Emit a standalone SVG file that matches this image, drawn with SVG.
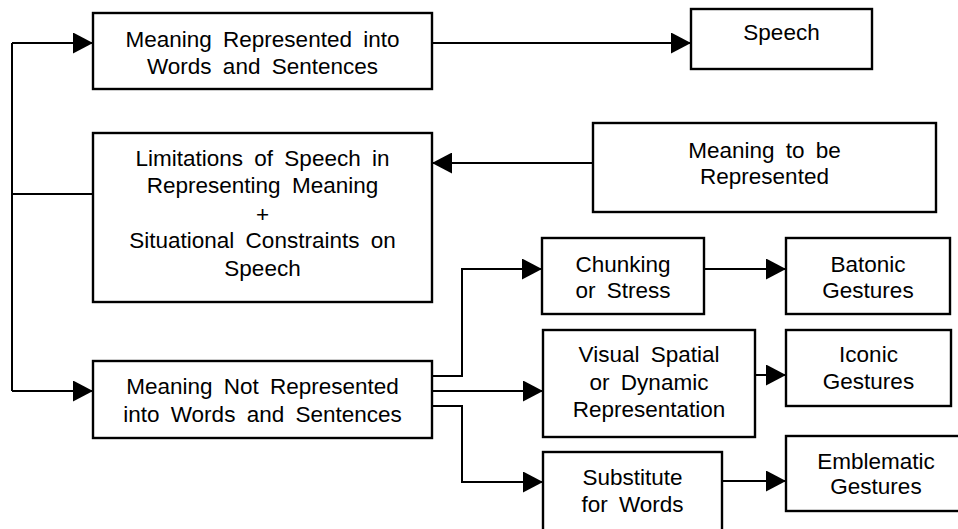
<svg xmlns="http://www.w3.org/2000/svg" width="958" height="529" viewBox="0 0 958 529">
  <style>
    .box { fill: #ffffff; stroke: #000000; stroke-width: 2.4; }
    .wire { fill: none; stroke: #000000; stroke-width: 2; }
    text { font-family: "Liberation Sans", Arial, Helvetica, sans-serif; font-size: 22.5px; fill: #000000; text-anchor: middle; word-spacing: 5px; }
  </style>
  <defs>
    <marker id="head" markerUnits="userSpaceOnUse" markerWidth="20" markerHeight="21" refX="20" refY="10.5" orient="auto">
      <path d="M0,0 L20,10.5 L0,21 Z" fill="#000000"/>
    </marker>
  </defs>
  <rect width="958" height="529" fill="#ffffff"/>

  <!-- connectors -->
  <g id="connectors">
    <path class="wire" d="M12,43 L12,391"/>
    <path class="wire" d="M12,43 L93,43" marker-end="url(#head)"/>
    <path class="wire" d="M12,194 L93,194"/>
    <path class="wire" d="M12,391 L93,391" marker-end="url(#head)"/>
    <path class="wire" d="M432,43 L691,43" marker-end="url(#head)"/>
    <path class="wire" d="M593,163 L432,163" marker-end="url(#head)"/>
    <path class="wire" d="M432,376 L462,376 L462,269 L542,269" marker-end="url(#head)"/>
    <path class="wire" d="M432,391 L543,391" marker-end="url(#head)"/>
    <path class="wire" d="M432,406 L462,406 L462,482 L543,482" marker-end="url(#head)"/>
    <path class="wire" d="M704,269 L786,269" marker-end="url(#head)"/>
    <path class="wire" d="M755,375 L786,375" marker-end="url(#head)"/>
    <path class="wire" d="M722,481 L786,481" marker-end="url(#head)"/>
  </g>

  <g id="represented">
    <rect class="box" x="93" y="13" width="339" height="76"/>
    <text x="262.5" y="46.5">Meaning Represented into</text>
    <text x="262.5" y="73.5">Words and Sentences</text>
  </g>

  <g id="speech">
    <rect class="box" x="691" y="9" width="181" height="60"/>
    <text x="781.5" y="40">Speech</text>
  </g>

  <g id="limitations">
    <rect class="box" x="93" y="133" width="339" height="169"/>
    <text x="262.5" y="166">Limitations of Speech in</text>
    <text x="262.5" y="193">Representing Meaning</text>
    <text x="262.5" y="222">+</text>
    <text x="262.5" y="248">Situational Constraints on</text>
    <text x="262.5" y="276">Speech</text>
  </g>

  <g id="meaning-source">
    <rect class="box" x="593" y="123" width="343" height="89"/>
    <text x="764.5" y="158">Meaning to be</text>
    <text x="764.5" y="184">Represented</text>
  </g>

  <g id="not-represented">
    <rect class="box" x="93" y="361" width="339" height="77"/>
    <text x="262.5" y="394">Meaning Not Represented</text>
    <text x="262.5" y="422">into Words and Sentences</text>
  </g>

  <g id="chunking">
    <rect class="box" x="542" y="238" width="162" height="76"/>
    <text x="623" y="272">Chunking</text>
    <text x="623" y="298">or Stress</text>
  </g>

  <g id="batonic">
    <rect class="box" x="786" y="238" width="164" height="76"/>
    <text x="868" y="272">Batonic</text>
    <text x="868" y="298">Gestures</text>
  </g>

  <g id="visual">
    <rect class="box" x="543" y="330" width="212" height="107"/>
    <text x="649" y="362">Visual Spatial</text>
    <text x="649" y="390">or Dynamic</text>
    <text x="649" y="417">Representation</text>
  </g>

  <g id="iconic">
    <rect class="box" x="786" y="330" width="165" height="76"/>
    <text x="868.5" y="362">Iconic</text>
    <text x="868.5" y="389">Gestures</text>
  </g>

  <g id="substitute">
    <rect class="box" x="543" y="452" width="179" height="90"/>
    <text x="632.5" y="485">Substitute</text>
    <text x="632.5" y="512">for Words</text>
  </g>

  <g id="emblematic">
    <rect class="box" x="786" y="436" width="180" height="75"/>
    <text x="876" y="469">Emblematic</text>
    <text x="876" y="494">Gestures</text>
  </g>
</svg>
